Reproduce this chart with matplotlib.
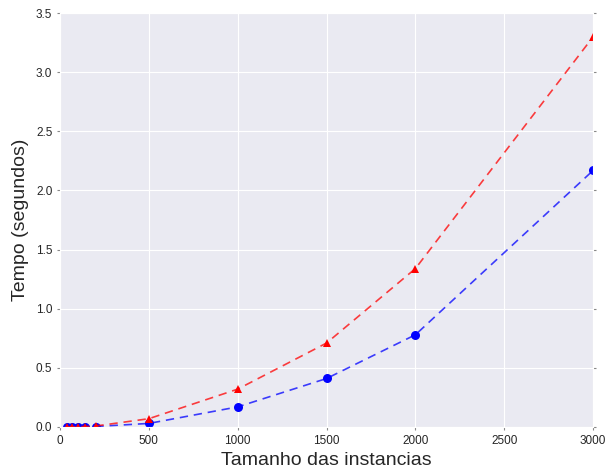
import matplotlib
matplotlib.use('Agg')
import matplotlib.pyplot as plt
import seaborn as sns

# Instance sizes and run times (seconds)
tamanhos = [40, 70, 100, 140, 200, 500, 1000, 1500, 2000, 3000]
tempo_vermelho = [0.0, 0.001, 0.002, 0.004, 0.008, 0.07, 0.32, 0.71, 1.34, 3.30]
tempo_azul = [0.0, 0.0005, 0.001, 0.002, 0.004, 0.03, 0.17, 0.41, 0.78, 2.17]

sns.set_style('darkgrid')
plt.rcParams['font.family'] = ['Liberation Sans', 'DejaVu Sans']

fig = plt.figure(figsize=(6.09, 4.69), dpi=100)
ax = fig.add_axes([0.0985, 0.0896, 0.8755, 0.8824])

# dashed lines (slightly transparent), then opaque markers
ax.plot(tamanhos, tempo_azul, 'b--', linewidth=1.2, dashes=(5, 3.5), alpha=0.75)
ax.plot(tamanhos, tempo_azul, 'bo', markersize=6.5, markeredgewidth=0)
ax.plot(tamanhos, tempo_vermelho, 'r--', linewidth=1.2, dashes=(5, 3.5), alpha=0.75)
ax.plot(tamanhos, tempo_vermelho, 'r^', markersize=6, markeredgewidth=0)

ax.set_xlim(0, 3000)
ax.set_ylim(0, 3.5)
ax.set_xticks([0, 500, 1000, 1500, 2000, 2500, 3000])
ax.set_yticks([0.0, 0.5, 1.0, 1.5, 2.0, 2.5, 3.0, 3.5])
ax.set_yticklabels(['0.0', '0.5', '1.0', '1.5', '2.0', '2.5', '3.0', '3.5'])

ax.tick_params(axis='both', labelsize=8.5, length=2, color='#888888',
               direction='out', right=True, left=True, bottom=True, top=False)

ax.set_xlabel('Tamanho das instancias', fontsize=14, labelpad=4)
ax.set_ylabel('Tempo (segundos)', fontsize=14, labelpad=5)

fig.savefig('out.png', dpi=100)
